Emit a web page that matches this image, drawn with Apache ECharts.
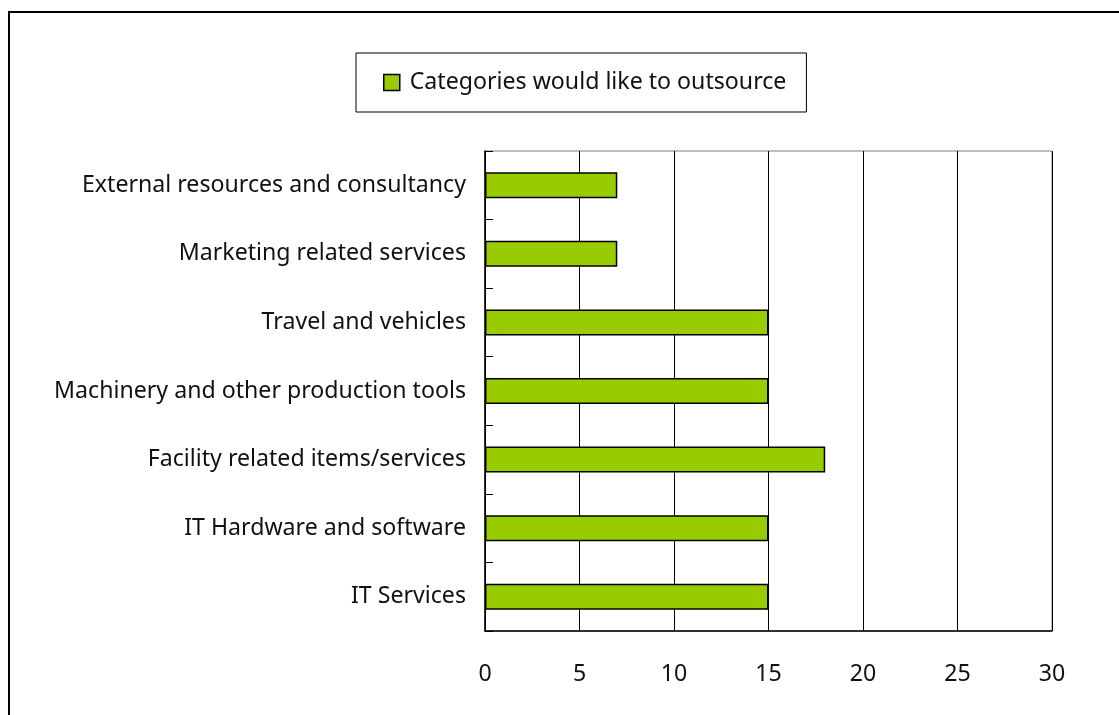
<!DOCTYPE html>
<html>
<head>
<meta charset="utf-8">
<title>Categories would like to outsource</title>
<script src="https://cdn.jsdelivr.net/npm/echarts@6/dist/echarts.min.js"></script>
<style>
  html, body { margin: 0; padding: 0; background: #fff; }
  #chart { width: 1119px; height: 715px; }
</style>
</head>
<body>
<div id="chart"></div>
<script>
// Categories listed bottom to top (category axis runs upward)
const categories = [
  'IT Services',
  'IT Hardware and software',
  'Facility related items/services',
  'Machinery and other production tools',
  'Travel and vehicles',
  'Marketing related services',
  'External resources and consultancy'
];
const outsourceCounts = [15, 15, 18, 15, 15, 7, 7];
const seriesName = 'Categories would like to outsource';
const xTicks = { min: 0, max: 30, interval: 5 };

const FONT = 'Noto Sans';
const FONT_SIZE = 23.15;

const chart = echarts.init(document.getElementById('chart'), null, { renderer: 'canvas' });

chart.setOption({
  backgroundColor: '#fff',
  animation: false,
  textStyle: { fontFamily: FONT, color: '#000' },
  graphic: [{
    type: 'rect',
    shape: { x: 9, y: 12, width: 1200, height: 800 },
    style: { fill: 'none', stroke: '#000', lineWidth: 2 },
    z: 100
  }],
  legend: {
    data: [seriesName],
    left: 356,
    top: 53,
    padding: [18, 20, 18, 27],
    borderColor: '#000',
    borderWidth: 1,
    itemWidth: 16,
    itemHeight: 16,
    icon: 'rect',
    itemStyle: { borderColor: '#000', borderWidth: 1.5 },
    textStyle: {
      fontFamily: FONT, fontSize: FONT_SIZE, color: '#111',
      lineHeight: 21, padding: [0, 0, 0, 5]
    }
  },
  grid: {
    left: 485,
    top: 151,
    right: 67,
    bottom: 84,
    show: true,
    borderColor: '#808080',
    borderWidth: 1
  },
  xAxis: {
    type: 'value',
    min: xTicks.min,
    max: xTicks.max,
    interval: xTicks.interval,
    axisLine: { show: true, lineStyle: { color: '#000', width: 1.5 } },
    axisTick: { show: false },
    axisLabel: { margin: 32, fontFamily: FONT, fontSize: FONT_SIZE, color: '#111' },
    splitLine: { show: true, lineStyle: { color: '#000', width: 1 } }
  },
  yAxis: {
    type: 'category',
    data: categories,
    axisLine: { show: true, lineStyle: { color: '#000', width: 1.5 } },
    axisTick: { show: true, inside: true, length: 8, lineStyle: { color: '#000' } },
    axisLabel: { margin: 19, fontFamily: FONT, fontSize: FONT_SIZE, color: '#111' },
    splitLine: { show: false }
  },
  series: [{
    name: seriesName,
    type: 'bar',
    data: outsourceCounts,
    barWidth: 26,
    itemStyle: { color: '#99cc00', borderColor: '#000', borderWidth: 1.5 }
  }]
});
</script>
</body>
</html>
